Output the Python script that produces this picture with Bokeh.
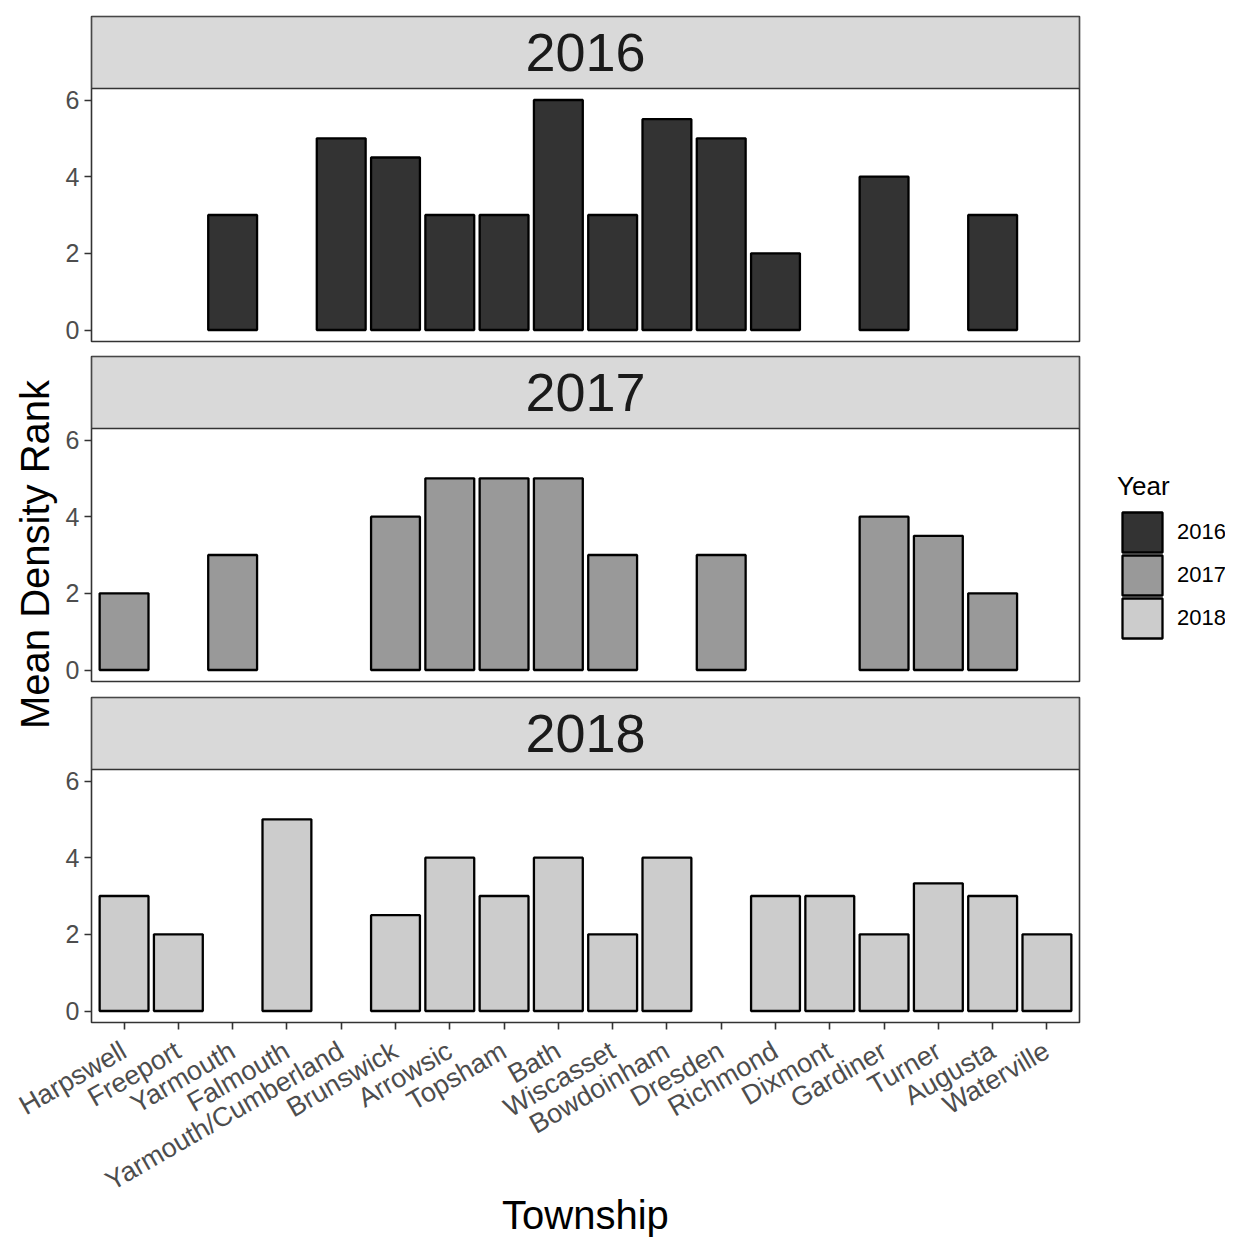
import math
from bokeh.plotting import figure
from bokeh.models import (FactorRange, Range1d, FixedTicker, BoxAnnotation, Label,
                          Legend, LegendItem, ColumnDataSource, GridBox)
from bokeh.layouts import column
from bokeh.core.properties import value
from bokeh.embed import file_html
from bokeh.resources import INLINE

# ---------------- data ----------------
townships = ["Harpswell", "Freeport", "Yarmouth", "Falmouth", "Yarmouth/Cumberland",
             "Brunswick", "Arrowsic", "Topsham", "Bath", "Wiscasset", "Bowdoinham",
             "Dresden", "Richmond", "Dixmont", "Gardiner", "Turner", "Augusta", "Waterville"]
years = ["2016", "2017", "2018"]
rank_2016 = [None, None, 3, None, 5, 4.5, 3, 3, 6, 3, 5.5, 5, 2, None, 4, None, 3, None]
rank_2017 = [2, None, 3, None, None, 4, 5, 5, 5, 3, None, 3, None, None, 4, 3.5, 2, None]
rank_2018 = [3, 2, None, 5, None, 2.5, 4, 3, 4, 2, 4, None, 3, 3, 2, 3.33, 3, 2]
year_colors = ["#333333", "#999999", "#CCCCCC"]
y_ticks = [0, 2, 4, 6]
x_title = "Township"
y_title = "Mean Density Rank"
legend_title = "Year"

# ---------------- styling ----------------
FONT = "Liberation Sans"
W = 1225
LEFT = 91
RIGHT = W - 1079
FRAME_H = 325
PANEL_PX = 253
Y0, Y1 = -0.3, 6.3
PX_PER_UNIT = PANEL_PX / (Y1 - Y0)
Y_TOP = Y1 + (FRAME_H - PANEL_PX) / PX_PER_UNIT
TOTAL_H = 1240


def make_panel(year, values, color, top_b, bottom_b, show_x):
    xr = FactorRange(factors=townships, range_padding=0.1, range_padding_units="absolute")
    p = figure(x_range=xr, y_range=Range1d(Y0, Y_TOP), width=W,
               height=top_b + FRAME_H + bottom_b,
               min_border_left=LEFT, min_border_right=RIGHT,
               min_border_top=top_b, min_border_bottom=bottom_b,
               output_backend="svg", toolbar_location=None,
               x_axis_location="below" if show_x else None)
    p.background_fill_color = "white"
    p.border_fill_color = "white"
    p.outline_line_color = "#333333"
    p.outline_line_width = 1.6
    p.grid.visible = False

    # facet strip
    strip = BoxAnnotation(bottom=Y1, fill_color="#D9D9D9", fill_alpha=1.0,
                          line_color="#333333", line_alpha=1.0, line_width=1.6,
                          level="underlay")
    p.add_layout(strip)
    p.add_layout(Label(x=9.0, y=(Y1 + Y_TOP) / 2, text=year, text_align="center",
                       text_baseline="middle", text_font=FONT, text_font_size="54px",
                       text_color="#1A1A1A"))

    xs = [t for t, v in zip(townships, values) if v is not None]
    tops = [v for v in values if v is not None]
    src = ColumnDataSource(dict(x=xs, top=tops))
    p.vbar(x="x", top="top", bottom=0, width=0.9, source=src,
           fill_color=color, line_color="black", line_width=2.3)

    ax = p.yaxis[0]
    ax.ticker = FixedTicker(ticks=y_ticks)
    ax.axis_line_color = None
    ax.major_tick_out = 7
    ax.major_tick_in = 0
    ax.major_tick_line_color = "#333333"
    ax.major_tick_line_width = 1.6
    ax.minor_tick_line_color = None
    ax.major_label_text_font = FONT
    ax.major_label_text_font_size = "25px"
    ax.major_label_text_color = "#4D4D4D"
    ax.major_label_standoff = 5

    if show_x:
        xa = p.xaxis[0]
        xa.axis_line_color = None
        xa.major_tick_out = 7
        xa.major_tick_in = 0
        xa.major_tick_line_color = "#333333"
        xa.major_tick_line_width = 1.6
        xa.major_label_orientation = math.pi / 6
        xa.major_label_text_font = FONT
        xa.major_label_text_font_size = "27px"
        xa.major_label_text_color = "#4D4D4D"
        xa.major_label_standoff = 19
        xa.axis_label = x_title
        xa.axis_label_text_font = FONT
        xa.axis_label_text_font_size = "40px"
        xa.axis_label_text_font_style = "normal"
        xa.axis_label_text_color = "black"
        xa.axis_label_standoff = -19
    return p


h1 = 16 + FRAME_H + 7
h2 = 8 + FRAME_H + 8
h3 = TOTAL_H - h1 - h2
p1 = make_panel(years[0], rank_2016, year_colors[0], 16, 7, False)
p2 = make_panel(years[1], rank_2017, year_colors[1], 8, 8, False)
p3 = make_panel(years[2], rank_2018, year_colors[2], 8, h3 - 8 - FRAME_H, True)

# transparent overlay carrying the shared y title and the legend
ov = figure(width=W, height=TOTAL_H, x_range=Range1d(0, W), y_range=Range1d(0, TOTAL_H),
            output_backend="svg", toolbar_location=None, min_border=0,
            x_axis_location=None, y_axis_location=None)
ov.outline_line_color = None
ov.grid.visible = False
ov.background_fill_color = None
ov.border_fill_color = None
ov.text(x=[34], y=[TOTAL_H - 554], text=[y_title], angle=math.pi / 2,
        text_align="center", text_baseline="middle", text_font=value(FONT),
        text_font_size="40px", text_color="black")

nan = float("nan")
swatches = [ov.vbar(x=[0], top=[nan], bottom=[nan], width=1, fill_color=c,
                    line_color="black", line_width=2.3) for c in year_colors]
item_bottoms = [557, 600, 643]
for i, (yr, r) in enumerate(zip(years, swatches)):
    kw = {}
    if i == 0:
        kw = dict(title=legend_title, title_text_font=FONT, title_text_font_size="26px",
                  title_text_font_style="normal", title_text_color="black", title_standoff=5)
    lg = Legend(items=[LegendItem(label=yr, renderers=[r])],
                location=(1117, TOTAL_H - item_bottoms[i]),
                label_text_font=FONT, label_text_font_size="22px", label_text_color="black",
                label_standoff=10, glyph_width=50, glyph_height=50, spacing=0,
                padding=0, margin=0, border_line_color=None, background_fill_alpha=0, **kw)
    ov.add_layout(lg)

panels = column(p1, p2, p3)
layout = GridBox(children=[(panels, 0, 0), (ov, 0, 0)])
open("out.html", "w").write(file_html(layout, INLINE))
